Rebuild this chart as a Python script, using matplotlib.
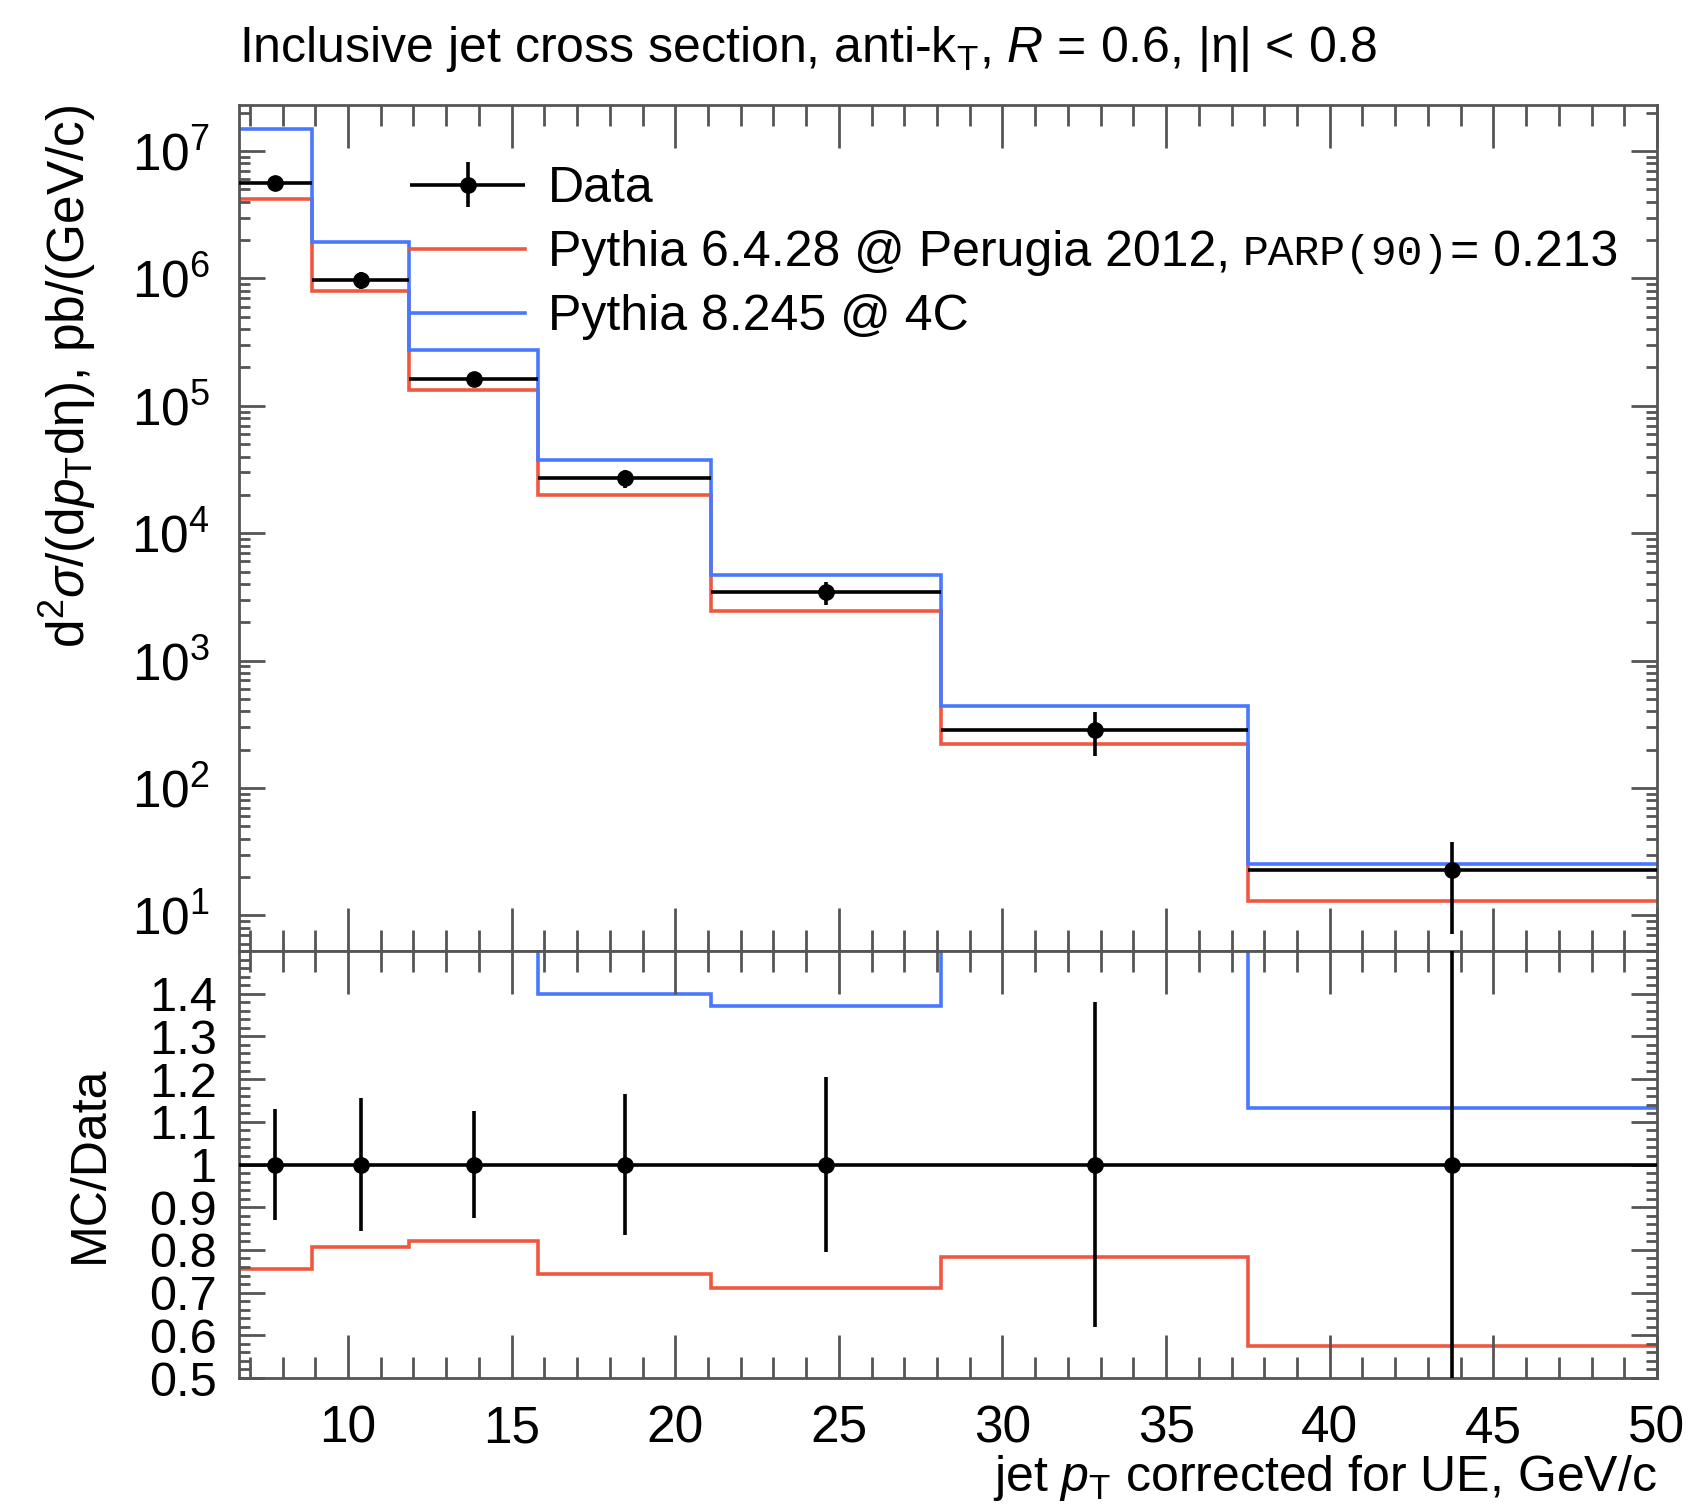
import numpy as np
import matplotlib
matplotlib.use("Agg")
import matplotlib.pyplot as plt
from matplotlib.lines import Line2D
from matplotlib.legend_handler import HandlerErrorbar
from matplotlib.ticker import LogLocator, MultipleLocator, FixedLocator, NullFormatter, FuncFormatter

# ---------------- data ----------------
bin_edges = [6.67, 8.90, 11.87, 15.82, 21.09, 28.13, 37.5, 50.0]
data_xsec = [5.6e6, 9.8e5, 1.63e5, 2.7e4, 3.45e3, 285.0, 22.5]
data_relerr = [0.13, 0.155, 0.125, 0.165, 0.205, 0.38, 0.68]
pythia6_xsec = [4.23e6, 7.9e5, 1.338e5, 2.01e4, 2.456e3, 223.0, 12.96]
pythia8_xsec = [1.48e7, 1.94e6, 2.76e5, 3.78e4, 4.73e3, 440.0, 25.5]

title_text = "Inclusive jet cross section, anti-k$_{\\rm T}$, $R$ = 0.6, |η| < 0.8"
label_data = "Data"
label_p6 = "Pythia 6.4.28 @ Perugia 2012,"
label_p6_param = "PARP(90)"
label_p6_value = "= 0.213"
label_p8 = "Pythia 8.245 @ 4C"
ratio_ticks = [0.5, 0.6, 0.7, 0.8, 0.9, 1.0, 1.1, 1.2, 1.3, 1.4]

# ---------------- style ----------------
plt.rcParams['font.family'] = ['Liberation Sans', 'DejaVu Sans']
plt.rcParams['mathtext.fontset'] = 'custom'
plt.rcParams['mathtext.rm'] = 'Liberation Sans'
plt.rcParams['mathtext.it'] = 'Liberation Sans:italic'
plt.rcParams['mathtext.tt'] = 'Liberation Mono'
plt.rcParams['mathtext.sf'] = 'Liberation Sans'

RED = '#f0573f'
BLUE = '#4878ff'
FRAME = '#555555'
FS = 37
LFS = 36

edges = np.array(bin_edges)
centers = 0.5 * (edges[:-1] + edges[1:])
xlo = centers - edges[:-1]
xhi = edges[1:] - centers
data = np.array(data_xsec)
rel = np.array(data_relerr)
p6 = np.array(pythia6_xsec)
p8 = np.array(pythia8_xsec)

fig = plt.figure(figsize=(16.91, 15.07), dpi=100)
L, W = 239 / 1691, (1657 - 239) / 1691
ax1 = fig.add_axes([L, 1 - 951 / 1507, W, (951 - 105) / 1507])
ax2 = fig.add_axes([L, 1 - 1378 / 1507, W, (1378 - 951) / 1507], sharex=ax1)

lw = 2.6
# upper panel
ax1.stairs(p6, edges, color=RED, lw=lw, baseline=None)
ax1.stairs(p8, edges, color=BLUE, lw=lw, baseline=None)
ax1.errorbar(centers, data, yerr=data * rel, xerr=[xlo, xhi], fmt='o', color='black',
             ms=11, lw=lw, elinewidth=lw, capsize=0, zorder=5)
ax1.set_yscale('log')
ax1.set_ylim(5.25, 2.3e7)
ax1.set_xlim(edges[0], edges[-1])

# lower panel
ax2.stairs(p6 / data, edges, color=RED, lw=lw, baseline=None)
ax2.stairs(p8 / data, edges, color=BLUE, lw=lw, baseline=None)
ax2.errorbar(centers, data / data, yerr=rel, xerr=[xlo, xhi], fmt='o', color='black',
             ms=11, lw=lw, elinewidth=lw, capsize=0, zorder=5)
ax2.set_ylim(0.5, 1.5)

for ax in (ax1, ax2):
    for sp in ax.spines.values():
        sp.set_color(FRAME)
        sp.set_linewidth(2.0)
    ax.xaxis.set_major_locator(MultipleLocator(5))
    ax.xaxis.set_minor_locator(MultipleLocator(1))
    ax.tick_params(which='both', direction='in', top=True, right=True, color=FRAME,
                   labelsize=FS)
    ax.tick_params(axis='x', which='major', length=31, width=2)
    ax.tick_params(axis='x', which='minor', length=15, width=2)
    ax.tick_params(axis='y', which='major', length=19, width=2)
    ax.tick_params(axis='y', which='minor', length=8, width=2)

ax1.yaxis.set_major_locator(LogLocator(base=10, numticks=20))
ax1.yaxis.set_minor_locator(LogLocator(base=10, subs=np.arange(2, 10), numticks=20))
ax1.yaxis.set_minor_formatter(NullFormatter())
ax1.tick_params(axis='x', labelbottom=False)
ax1.tick_params(axis='y', pad=21)

ax2.yaxis.set_major_locator(FixedLocator(ratio_ticks))
ax2.yaxis.set_minor_locator(MultipleLocator(0.02))
ax2.yaxis.set_major_formatter(FuncFormatter(lambda v, p: f"{v:g}"))
ax2.tick_params(axis='y', pad=16, labelsize=35)
ax2.tick_params(axis='x', pad=19)

ax1.set_ylabel("d$^2\\sigma$/(d$p_{\\rm T}$dη), pb/(GeV/c)", fontsize=37, loc='top', labelpad=24)
ax2.set_ylabel("MC/Data", fontsize=36, labelpad=26)
ax2.set_xlabel("jet $p_{\\rm T}$ corrected for UE, GeV/c", fontsize=36, loc='right', labelpad=0)
ax1.set_title(title_text, fontsize=36, loc='left', pad=31)

dh = ax1.errorbar([], [], yerr=[], xerr=[], fmt='o', color='black', ms=11, lw=lw,
                  elinewidth=lw, capsize=0)
handles = [dh, Line2D([], [], color=RED, lw=lw), Line2D([], [], color=BLUE, lw=lw)]
leg = ax1.legend(handles, [label_data, label_p6, label_p8], loc='upper left',
                 bbox_to_anchor=(410 / 1691, 1 - 166 / 1507), bbox_transform=fig.transFigure,
                 frameon=False, fontsize=LFS, handlelength=2.3, handletextpad=0.46,
                 labelspacing=0.365, borderpad=0, borderaxespad=0,
                 handler_map={type(dh): HandlerErrorbar(xerr_size=1.15, yerr_size=0.45)})

p6_text = leg.get_texts()[1]
parp = ax1.annotate(label_p6_param, xy=(1, 0), xycoords=p6_text, xytext=(9, 1.5),
                    textcoords='offset points', ha='left', va='bottom',
                    fontfamily='Liberation Mono', fontsize=31, zorder=6)
ax1.annotate(label_p6_value, xy=(1, 0), xycoords=parp, xytext=(1, -1.5),
             textcoords='offset points', ha='left', va='bottom', fontsize=LFS, zorder=6)

fig.canvas.draw()
fig.savefig("out.png", dpi=100)
